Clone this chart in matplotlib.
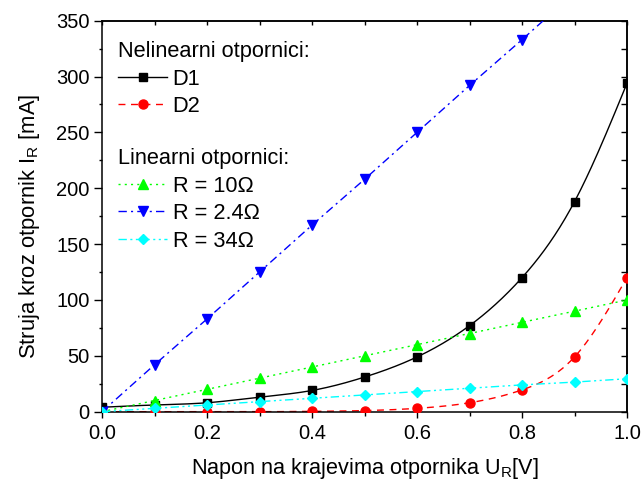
import numpy as np
import matplotlib
matplotlib.use("Agg")
import matplotlib.pyplot as plt
from matplotlib.ticker import MultipleLocator, FormatStrFormatter

plt.rcParams['font.family'] = ['Liberation Sans', 'DejaVu Sans']
plt.rcParams['mathtext.default'] = 'regular'

# Measured voltage across the resistor [V]
voltage = [0.0, 0.1, 0.2, 0.3, 0.4, 0.5, 0.6, 0.7, 0.8, 0.9, 1.0]

# Nonlinear resistors (diodes), current in mA
d1_current = [4, 6, 8, 13, 19, 31, 49, 77, 120, 188, 294]
d2_current = [0, 0, 0, 0, 0.3, 1, 3, 8, 19.5, 49, 120]

# Linear resistors, current in mA
r10_current = [0, 10, 20, 30, 40, 50, 60, 70, 80, 90, 100]
r24_current = [0, 42, 83, 125, 167, 208, 250, 292, 333, 375, 417]
r34_current = [0, 3, 6, 9, 12, 15, 18, 21, 24, 26.5, 29.5]


def natural_spline(x, y, n=400):
    """Natural cubic spline through (x, y), sampled on n points."""
    x = np.asarray(x, float)
    y = np.asarray(y, float)
    m = len(x)
    h = np.diff(x)
    A = np.zeros((m, m))
    b = np.zeros(m)
    A[0, 0] = 1.0
    A[-1, -1] = 1.0
    for i in range(1, m - 1):
        A[i, i - 1] = h[i - 1]
        A[i, i] = 2 * (h[i - 1] + h[i])
        A[i, i + 1] = h[i]
        b[i] = 6 * ((y[i + 1] - y[i]) / h[i] - (y[i] - y[i - 1]) / h[i - 1])
    M = np.linalg.solve(A, b)
    xs = np.linspace(x[0], x[-1], n)
    idx = np.clip(np.searchsorted(x, xs) - 1, 0, m - 2)
    x0, x1 = x[idx], x[idx + 1]
    hh = x1 - x0
    ys = (M[idx] * (x1 - xs) ** 3 / (6 * hh)
          + M[idx + 1] * (xs - x0) ** 3 / (6 * hh)
          + (y[idx] / hh - M[idx] * hh / 6) * (x1 - xs)
          + (y[idx + 1] / hh - M[idx + 1] * hh / 6) * (xs - x0))
    return xs, ys


fig = plt.figure(figsize=(6.42, 4.86), dpi=100)
ax = fig.add_axes([102 / 642, 1 - 411.7 / 486, 525 / 642, 391 / 486])

lw = 1.0
GREEN = '#00ff00'
BLUE = '#0000ff'
CYAN = '#00ffff'
RED = '#ff0000'

# D1: smooth solid curve with square markers
sx, sy = natural_spline(voltage, d1_current)
ax.plot(sx, sy, color='black', lw=lw, zorder=2)
ax.plot(voltage, d1_current, ls='none', marker='s', ms=6.0, color='black', zorder=3)
h_d1, = ax.plot([], [], color='black', lw=lw, marker='s', ms=6.0)

# D2: smooth dashed curve with circle markers
sx, sy = natural_spline(voltage, d2_current)
ax.plot(sx, sy, color=RED, lw=lw, ls=(0, (5, 4)), zorder=2)
ax.plot(voltage, d2_current, ls='none', marker='o', ms=6.5, color=RED, zorder=3)
h_d2, = ax.plot([], [], color=RED, lw=lw, ls=(0, (5, 4)), marker='o', ms=6.5)

h_r10, = ax.plot(voltage, r10_current, color=GREEN, lw=lw, ls=(0, (1.5, 3)),
                 marker='^', ms=7.3, zorder=3)
h_r24, = ax.plot(voltage, r24_current, color=BLUE, lw=lw, ls=(0, (6, 3, 1.5, 3)),
                 marker='v', ms=7.5, zorder=3)
h_r34, = ax.plot(voltage, r34_current, color=CYAN, lw=lw,
                 ls=(0, (6, 2.5, 1.5, 2.5, 1.5, 2.5)), marker='D', ms=5.3, zorder=3)

ax.set_xlim(0.0, 1.0)
ax.set_ylim(0, 350)
ax.xaxis.set_major_locator(MultipleLocator(0.2))
ax.xaxis.set_minor_locator(MultipleLocator(0.1))
ax.yaxis.set_major_locator(MultipleLocator(50))
ax.yaxis.set_minor_locator(MultipleLocator(25))
ax.xaxis.set_major_formatter(FormatStrFormatter('%.1f'))

for s in ax.spines.values():
    s.set_linewidth(1.1)

ax.tick_params(axis='both', which='major', direction='out', labelsize=14.5, width=1.0)
ax.tick_params(axis='x', which='major', length=4, pad=5)
ax.tick_params(axis='x', which='minor', direction='out', length=3, width=1.0)
ax.tick_params(axis='y', which='major', length=6, pad=3)
ax.tick_params(axis='y', which='minor', direction='out', length=2.5, width=1.0)

# Mirror ticks on top and right, pointing inward
top = ax.secondary_xaxis('top')
top.xaxis.set_major_locator(MultipleLocator(0.2))
top.xaxis.set_minor_locator(MultipleLocator(0.1))
top.tick_params(which='both', direction='in', length=3, width=1.0, labeltop=False)
top.spines['top'].set_linewidth(1.1)
right = ax.secondary_yaxis('right')
right.yaxis.set_major_locator(MultipleLocator(50))
right.yaxis.set_minor_locator(MultipleLocator(25))
right.tick_params(which='both', direction='in', length=4, width=1.0, labelright=False)
right.spines['right'].set_linewidth(1.1)

ax.set_xlabel('Napon na krajevima otpornika U$_R$[V]', fontsize=15.6, labelpad=9)
ax.set_ylabel('Struja kroz otpornik I$_R$ [mA]', fontsize=15.8, labelpad=10)
ax.yaxis.label.set_y(0.475)

leg_kw = dict(frameon=False, fontsize=15.7, title_fontsize=15.7, alignment='left',
              handlelength=2.25, handletextpad=0.25, labelspacing=0.3,
              borderpad=0, borderaxespad=0, loc='upper left',
              bbox_transform=fig.transFigure)
leg1 = ax.legend([h_d1, h_d2], ['D1', 'D2'], title='Nelinearni otpornici:',
                 bbox_to_anchor=(118 / 642, 1 - 41 / 486), **leg_kw)
ax.add_artist(leg1)
leg2 = ax.legend([h_r10, h_r24, h_r34], ['R = 10\u03a9', 'R = 2.4\u03a9', 'R = 34\u03a9'],
                 title='Linearni otpornici:',
                 bbox_to_anchor=(118 / 642, 1 - 148 / 486), **leg_kw)

fig.savefig('out.png', dpi=100)
